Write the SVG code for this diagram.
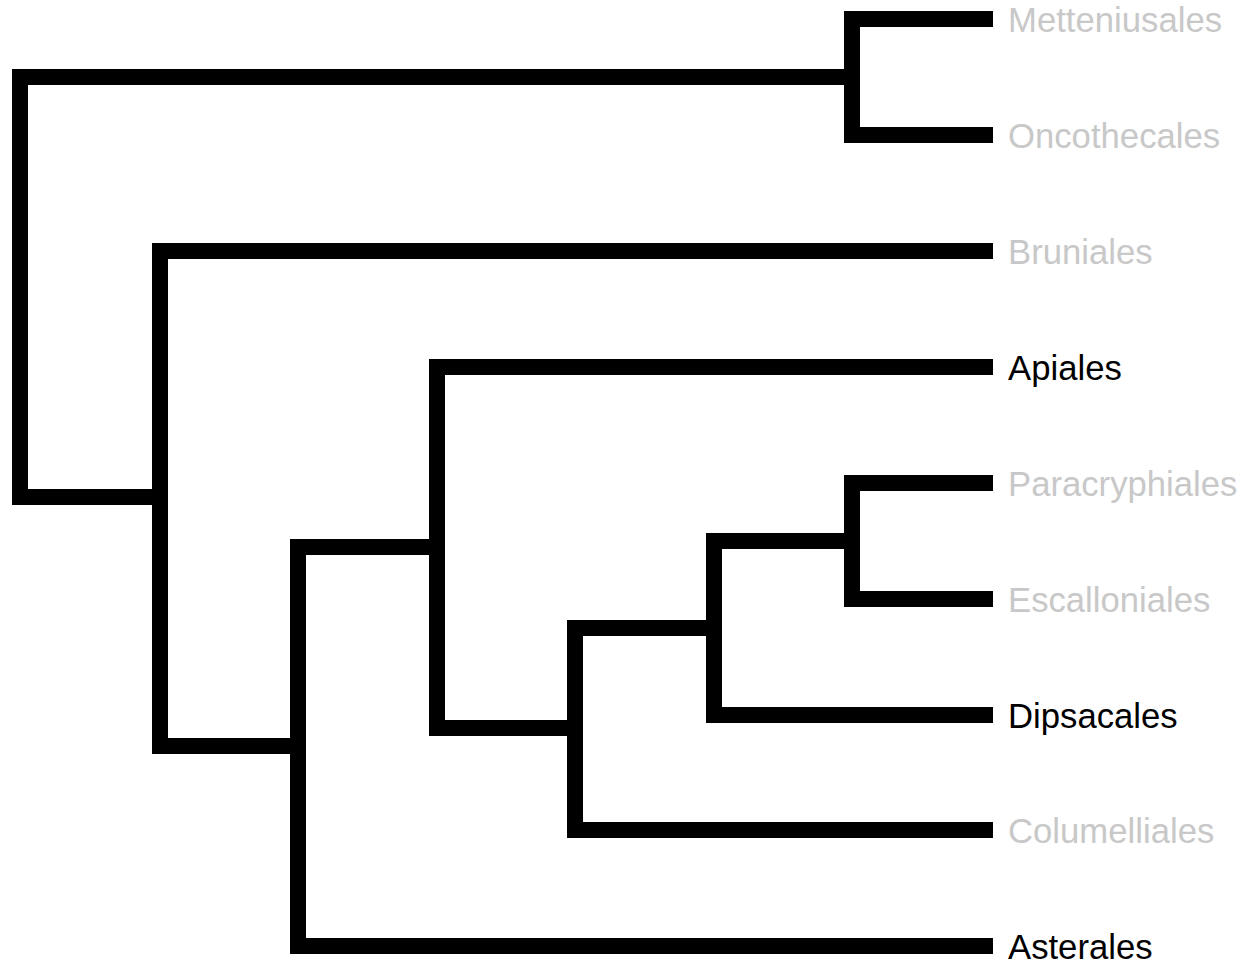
<svg xmlns="http://www.w3.org/2000/svg" width="1250" height="964" viewBox="0 0 1250 964">
<style>
.e{fill:none;stroke:#000;stroke-width:16;stroke-linejoin:miter;stroke-linecap:butt}
.t{font-family:"Liberation Sans",Arial,sans-serif;font-size:34.7px}
.g{fill:#c8c8c8}
.k{fill:#000}
</style>
<rect width="1250" height="964" fill="#fff"/>
<g id="connectors">
<path class="e" d="M852,77 H20 V497 H160"/>
<path class="e" d="M993,19 H852 V135 H993"/>
<path class="e" d="M993,251 H160 V746 H298"/>
<path class="e" d="M437,547 H298 V946 H993"/>
<path class="e" d="M993,367 H437 V728 H575"/>
<path class="e" d="M714,628 H575 V830 H993"/>
<path class="e" d="M852,541 H714 V715 H993"/>
<path class="e" d="M993,483 H852 V599 H993"/>
</g>
<g id="Metteniusales"><text class="t g" x="1008" y="32">Metteniusales</text></g>
<g id="Oncothecales"><text class="t g" x="1008" y="148">Oncothecales</text></g>
<g id="Bruniales"><text class="t g" x="1008" y="264">Bruniales</text></g>
<g id="Apiales"><text class="t k" x="1008" y="380">Apiales</text></g>
<g id="Paracryphiales"><text class="t g" x="1008" y="496">Paracryphiales</text></g>
<g id="Escalloniales"><text class="t g" x="1008" y="612">Escalloniales</text></g>
<g id="Dipsacales"><text class="t k" x="1008" y="728">Dipsacales</text></g>
<g id="Columelliales"><text class="t g" x="1008" y="843">Columelliales</text></g>
<g id="Asterales"><text class="t k" x="1008" y="959">Asterales</text></g>
</svg>
